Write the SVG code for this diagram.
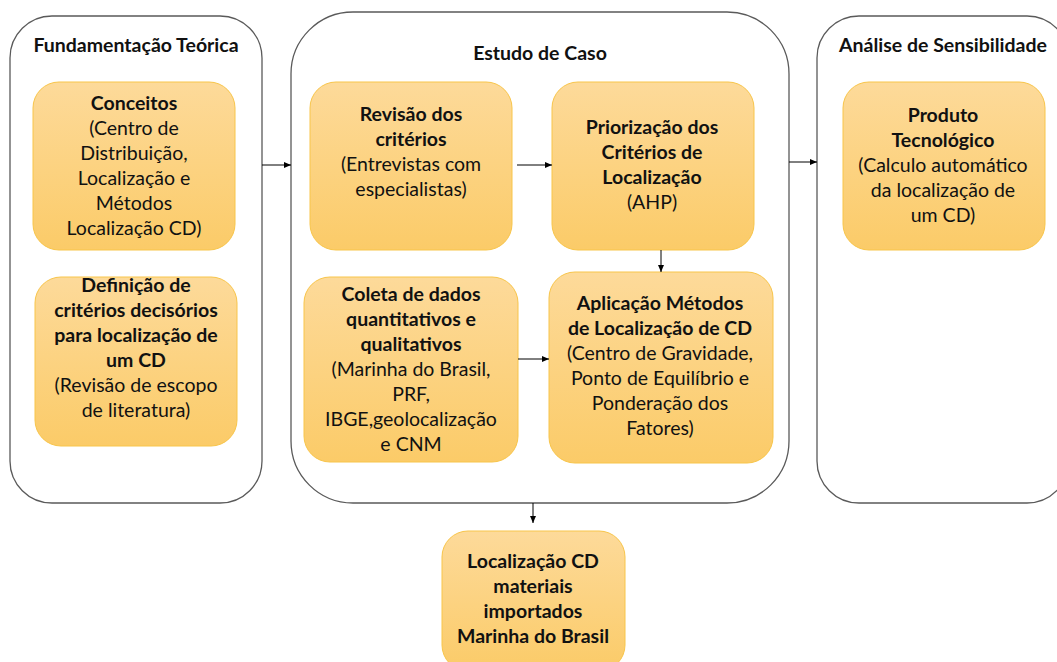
<svg xmlns="http://www.w3.org/2000/svg" width="1057" height="662" viewBox="0 0 1057 662">
<style>
.cont{fill:#fff;stroke:#5a5a5a;stroke-width:1.3}
.box{fill:url(#g);stroke:#F8C54A;stroke-width:1}
text{font-family:Lato,"Liberation Sans",sans-serif;font-size:19.5px;fill:#111;text-anchor:middle}
.b{font-weight:bold}
.conn{stroke:#000;stroke-width:1;fill:none;marker-end:url(#ah)}
</style>
<defs>
<linearGradient id="g" x1="0" y1="0" x2="0" y2="1">
<stop offset="0" stop-color="#FDDA9A"/>
<stop offset="1" stop-color="#FBCB68"/>
</linearGradient>
<marker id="ah" markerWidth="8" markerHeight="8" refX="7" refY="4" orient="auto" markerUnits="userSpaceOnUse">
<path d="M0,1 L7,4 L0,7 Z" fill="#000"/>
</marker>
</defs>
<g id="fundamentacao">
<rect class="cont" x="10" y="16" width="252" height="487" rx="42"/>
<text class="b" x="136" y="52">Fundamentação Teórica</text>
</g>
<g id="estudo">
<rect class="cont" x="291" y="12" width="498" height="491" rx="62"/>
<text class="b" x="540" y="60">Estudo de Caso</text>
</g>
<g id="analise">
<rect class="cont" x="817" y="16" width="252" height="487" rx="42"/>
<text class="b" x="943" y="52">Análise de Sensibilidade</text>
</g>
<g id="conceitos">
<rect class="box" x="33" y="82" width="202" height="168" rx="26"/>
<text x="134" y="110"><tspan class="b">Conceitos</tspan><tspan x="134" dy="25">(Centro de</tspan><tspan x="134" dy="25">Distribuição,</tspan><tspan x="134" dy="25">Localização e</tspan><tspan x="134" dy="25">Métodos</tspan><tspan x="134" dy="25">Localização CD)</tspan></text>
</g>
<g id="definicao">
<rect class="box" x="35" y="277" width="202" height="169" rx="26"/>
<text x="136" y="292"><tspan class="b">Definição de</tspan><tspan class="b" x="136" dy="25">critérios decisórios</tspan><tspan class="b" x="136" dy="25">para localização de</tspan><tspan class="b" x="136" dy="25">um CD</tspan><tspan x="136" dy="25">(Revisão de escopo</tspan><tspan x="136" dy="25">de literatura)</tspan></text>
</g>
<g id="revisao">
<rect class="box" x="310" y="82" width="202" height="168" rx="26"/>
<text x="411" y="121"><tspan class="b">Revisão dos</tspan><tspan class="b" x="411" dy="25">critérios</tspan><tspan x="411" dy="25">(Entrevistas com</tspan><tspan x="411" dy="25">especialistas)</tspan></text>
</g>
<g id="priorizacao">
<rect class="box" x="552" y="82" width="202" height="168" rx="26"/>
<text x="652" y="134"><tspan class="b">Priorização dos</tspan><tspan class="b" x="652" dy="25">Critérios de</tspan><tspan class="b" x="652" dy="25">Localização</tspan><tspan x="652" dy="25">(AHP)</tspan></text>
</g>
<g id="coleta">
<rect class="box" x="304" y="277" width="214" height="185" rx="26"/>
<text x="411" y="301"><tspan class="b">Coleta de dados</tspan><tspan class="b" x="411" dy="25">quantitativos e</tspan><tspan class="b" x="411" dy="25">qualitativos</tspan><tspan x="411" dy="25">(Marinha do Brasil,</tspan><tspan x="411" dy="25">PRF,</tspan><tspan x="411" dy="25">IBGE,geolocalização</tspan><tspan x="411" dy="25">e CNM</tspan></text>
</g>
<g id="aplicacao">
<rect class="box" x="549" y="272" width="224" height="191" rx="26"/>
<text x="660" y="310"><tspan class="b">Aplicação Métodos</tspan><tspan class="b" x="660" dy="25">de Localização de CD</tspan><tspan x="660" dy="25">(Centro de Gravidade,</tspan><tspan x="660" dy="25">Ponto de Equilíbrio e</tspan><tspan x="660" dy="25">Ponderação dos</tspan><tspan x="660" dy="25">Fatores)</tspan></text>
</g>
<g id="produto">
<rect class="box" x="843" y="82" width="202" height="168" rx="26"/>
<text x="943" y="122"><tspan class="b">Produto</tspan><tspan class="b" x="943" dy="25">Tecnológico</tspan><tspan x="943" dy="25">(Calculo automático</tspan><tspan x="943" dy="25">da localização de</tspan><tspan x="943" dy="25">um CD)</tspan></text>
</g>
<g id="localizacao">
<rect class="box" x="442" y="531" width="183" height="140" rx="26"/>
<text x="533" y="568"><tspan class="b">Localização CD</tspan><tspan class="b" x="533" dy="25">materiais</tspan><tspan class="b" x="533" dy="25">importados</tspan><tspan class="b" x="533" dy="25">Marinha do Brasil</tspan></text>
</g>
<g id="connectors">
<path class="conn" d="M262,165 H291"/>
<path class="conn" d="M517,165 H552"/>
<path class="conn" d="M661,250 V272"/>
<path class="conn" d="M518,359 H549"/>
<path class="conn" d="M789,162 H817"/>
<path class="conn" d="M533,503 V523"/>
</g>
</svg>
